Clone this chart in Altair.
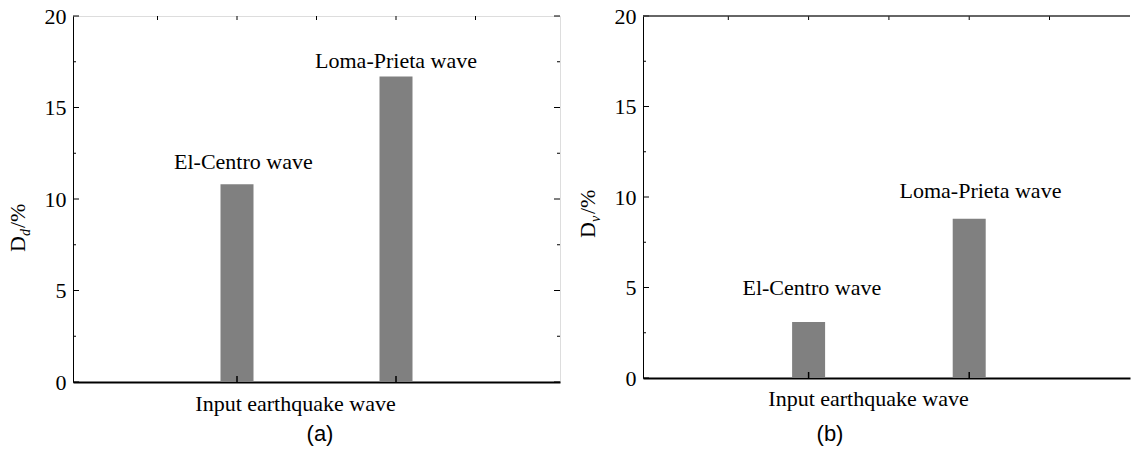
import altair as alt
import pandas as pd

# ---- data ----
waves = ["El-Centro wave", "Loma-Prieta wave"]
wave_pos = [1, 2]
dd_values = [10.8, 16.7]          # panel (a) D_d / %
dv_values = [3.1, 8.8]            # panel (b) D_v / %
label_x_a = [1.04, 2.0]
label_y_a = [11.65, 17.15]
label_x_b = [1.02, 2.07]
label_y_b = [4.6, 9.95]
y_major = [0, 5, 10, 15, 20]
y_minor = [2.5, 7.5, 12.5, 17.5]
x_top_ticks = [0.5, 1.0, 1.5, 2.0, 2.5]

SERIF = "Liberation Serif"
SANS = "Liberation Sans"


def panel(values, lx, ly, width, height, xmax, sub, letter, title_x, title_y,
          letter_x, letter_y, dtitle_y, right_border=True):
    xs = alt.Scale(domain=[0, xmax], nice=False, zero=True)
    ys = alt.Scale(domain=[0, 20], nice=False)
    bars_df = pd.DataFrame({"pos": wave_pos, "val": values, "wave": waves})
    lab_df = pd.DataFrame({"x": lx, "y": ly, "wave": waves})

    bars = alt.Chart(bars_df).mark_bar(color="#808080", size=33).encode(
        x=alt.X("pos:Q", scale=xs,
                axis=alt.Axis(labels=False, ticks=False, grid=False, domainWidth=2,
                              domainColor="black", title="Input earthquake wave",
                              titleFont=SERIF, titleFontSize=22, titleFontWeight="normal",
                              titleColor="black", titleX=title_x, titleY=title_y,
                              titleBaseline="alphabetic")),
        y=alt.Y("val:Q", scale=ys,
                axis=alt.Axis(values=y_major, ticks=False, grid=False, labelPadding=7,
                              labelFont=SERIF, labelFontSize=22, labelColor="black",
                              labelFlush=False, labelOverlap=False,
                              domainColor="black", domainWidth=1, title=None)),
    )
    labels = alt.Chart(lab_df).mark_text(font=SERIF, fontSize=22, color="black",
                                         align="center", baseline="alphabetic").encode(
        x=alt.X("x:Q", scale=xs), y=alt.Y("y:Q", scale=ys), text="wave:N")

    maj = pd.DataFrame({"v": y_major})
    mnr = pd.DataFrame({"v": y_minor})
    top = pd.DataFrame({"v": x_top_ticks})
    bot = pd.DataFrame({"v": wave_pos})
    tick_style = dict(color="black", strokeWidth=1)
    layers = [
        bars, labels,
        alt.Chart(maj).mark_rule(**tick_style).encode(
            y=alt.Y("v:Q", scale=ys), x=alt.value(0), x2=alt.value(6)),
        alt.Chart(mnr).mark_rule(**tick_style).encode(
            y=alt.Y("v:Q", scale=ys), x=alt.value(0), x2=alt.value(3)),
        alt.Chart(top).mark_rule(**tick_style).encode(
            x=alt.X("v:Q", scale=xs), y=alt.value(0), y2=alt.value(4)),
        alt.Chart(bot).mark_rule(color="black", strokeWidth=1.5).encode(
            x=alt.X("v:Q", scale=xs), y=alt.value(height), y2=alt.value(height - 6)),
    ]
    if right_border:
        layers += [
            alt.Chart(maj).mark_rule(**tick_style).encode(
                y=alt.Y("v:Q", scale=ys), x=alt.value(width), x2=alt.value(width - 6)),
            alt.Chart(mnr).mark_rule(**tick_style).encode(
                y=alt.Y("v:Q", scale=ys), x=alt.value(width), x2=alt.value(width - 3)),
        ]
    else:
        layers.append(
            alt.Chart(pd.DataFrame({"a": [0]})).mark_rule(color="#333333", strokeWidth=1.5).encode(
                y=alt.value(0), x=alt.value(0), x2=alt.value(width)))

    # y title: D + subscript + /%
    tdf_main = pd.DataFrame({"t": ["D"]})
    tdf_sub = pd.DataFrame({"t": [sub]})
    tdf_pct = pd.DataFrame({"t": ["/%"]})
    layers += [
        alt.Chart(tdf_main).mark_text(font=SERIF, fontSize=22, angle=270, align="left",
                                      baseline="middle", color="black").encode(
            text="t:N", x=alt.value(-55), y=alt.value(dtitle_y)),
        alt.Chart(tdf_sub).mark_text(font=SERIF, fontSize=14, fontStyle="italic", angle=270,
                                     align="left", baseline="middle", color="black").encode(
            text="t:N", x=alt.value(-47), y=alt.value(dtitle_y - 16)),
        alt.Chart(tdf_pct).mark_text(font=SERIF, fontSize=22, angle=270, align="left",
                                     baseline="middle", color="black").encode(
            text="t:N", x=alt.value(-55), y=alt.value(dtitle_y - 24)),
        alt.Chart(pd.DataFrame({"t": [letter]})).mark_text(
            font=SANS, fontSize=22, align="center", baseline="alphabetic", color="black").encode(
            text="t:N", x=alt.value(letter_x), y=alt.value(letter_y)),
    ]
    ch = alt.layer(*layers).properties(width=width, height=height)
    if not right_border:
        ch = ch.properties(view=alt.ViewBackground(stroke="transparent"))
    return ch


pa = panel(dd_values, label_x_a, label_y_a, 487, 366, 3.0, "d", "(a)",
           222, 28, 247, 425, 236, right_border=True)
pb = panel(dv_values, label_x_b, label_y_b, 487, 362, 2.97, "v", "(b)",
           225, 27, 187, 425, 222, right_border=False)

chart = alt.hconcat(pa, pb, spacing=83, bounds="flush").properties(
    padding={"left": 6, "top": 4, "right": 0, "bottom": 0}
).configure_view(stroke="black", strokeWidth=1).configure(background="white")

chart.save("out.html", embed_options={"renderer": "svg", "actions": False})
